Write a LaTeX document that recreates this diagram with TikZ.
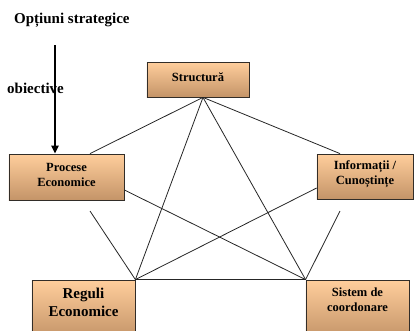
\documentclass[tikz,border=0pt]{standalone}
\usepackage{fontspec}
\setmainfont{Liberation Serif}
\usetikzlibrary{shadows,arrows.meta}
\definecolor{boxtop}{RGB}{255,206,156}
\definecolor{boxbot}{RGB}{196,148,104}
\definecolor{boxline}{RGB}{50,45,40}
\tikzset{
  box/.style={rectangle, draw=boxline, line width=0.8bp, top color=boxtop, bottom color=boxbot,
    inner sep=0pt, drop shadow={shadow xshift=1.3bp, shadow yshift=-1.3bp, fill=black!75, opacity=0.9}},
  boxtext/.style={font=\bfseries\fontsize{12.5bp}{15bp}\selectfont, align=center, inner sep=0pt},
  bigtext/.style={font=\bfseries\fontsize{15bp}{18bp}\selectfont, align=center, inner sep=0pt},
  link/.style={draw=black!85, line width=0.8bp},
}
\begin{document}
\begin{tikzpicture}[x=1bp,y=-1bp]
\useasboundingbox (0,0) rectangle (414,331);
% boxes
\node[box, minimum width=102bp, minimum height=35bp] (s) at (198,79.5) {};
\node[boxtext] (st) at (198,77) {Structură};
\node[box, minimum width=115bp, minimum height=46bp] (p) at (66.5,177) {};
\node[boxtext] (pt) at (66.5,175) {Procese\\Economice};
\node[box, minimum width=96bp, minimum height=45bp] (i) at (365,176.5) {};
\node[boxtext] (it) at (365,174) {Informații /\\Cunoștințe};
\node[box, minimum width=103bp, minimum height=58bp] (r) at (83.5,309) {};
\node[bigtext] (rt) at (83.5,302) {Reguli\\Economice};
\node[box, minimum width=103bp, minimum height=58bp] (c) at (357.5,309) {};
\node[boxtext] (ct) at (357.5,299.5) {Sistem de\\coordonare};
% labels
\node[bigtext, anchor=west] (title) at (14,20) {Opțiuni strategice};
\node[bigtext, anchor=west] (obj) at (7,88) {obiective};
% arrow
\coordinate (atop) at (55,45);
\draw[line width=2bp, -{Triangle[length=8bp,width=7bp]}] (atop) -- (p.north -| atop);
% connection points
\coordinate (apex) at ([xshift=5bp]s.south);
\coordinate (pn) at ([xshift=23.5bp]p.north);
\coordinate (in) at ([xshift=-25bp]i.north);
\coordinate (pe) at ([yshift=-13bp]p.east);
\coordinate (iw) at ([yshift=-11.5bp]i.west);
\coordinate (pfree) at (90,211);
\coordinate (ifree) at (340,211);
% lines
\draw[link] (apex) -- (pn);
\draw[link] (apex) -- (in);
\draw[link] (apex) -- (r.north east);
\draw[link] (apex) -- (c.north west);
\draw[link] (pe) -- (c.north west);
\draw[link] (iw) -- (r.north east);
\draw[link] (pfree) -- (r.north east);
\draw[link] (ifree) -- (c.north west);
\draw[link] (r.north east) -- (c.north west);
\end{tikzpicture}
\end{document}
